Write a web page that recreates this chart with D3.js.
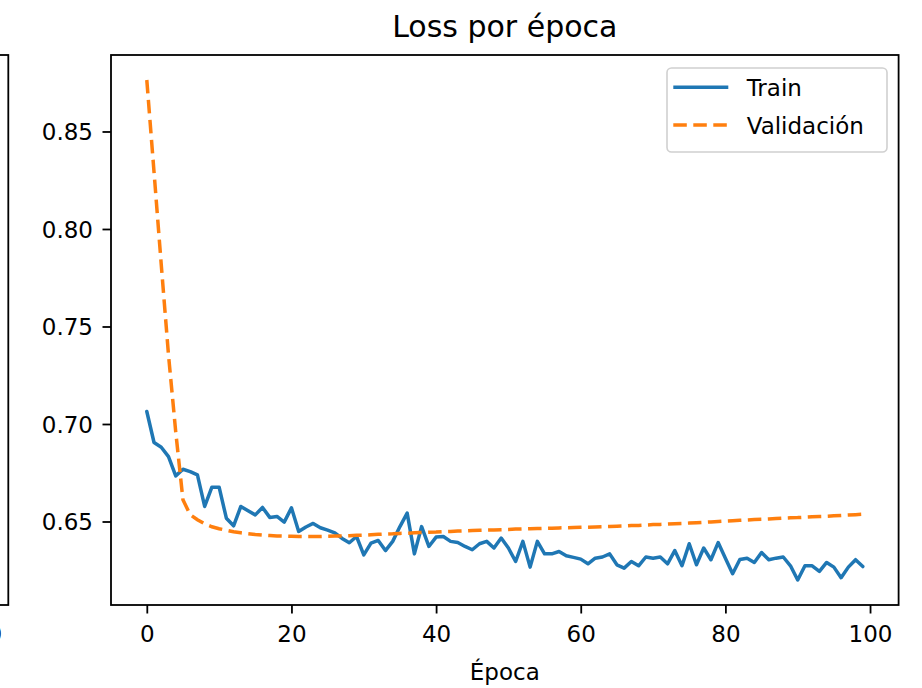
<!DOCTYPE html>
<html>
<head>
<meta charset="utf-8">
<script src="https://cdn.jsdelivr.net/npm/d3@7"></script>
<style>
  body { margin: 0; background: #fff; }
  svg { display: block; font-family: "DejaVu Sans", sans-serif; }
</style>
</head>
<body>
<div id="chart"></div>
<script>
// Loss per epoch
const trainLoss = [
    0.7064, 0.6905, 0.6881, 0.6833, 0.6734, 0.6768, 0.6756, 0.6739, 0.6577, 0.6676,
    0.6676, 0.6517, 0.6478, 0.6577, 0.6555, 0.6534, 0.6572, 0.6521, 0.6526, 0.6497,
    0.6570, 0.6449, 0.6472, 0.6490, 0.6468, 0.6456, 0.6442, 0.6413, 0.6391, 0.6423,
    0.6329, 0.6389, 0.6403, 0.6351, 0.6398, 0.6474, 0.6543, 0.6334, 0.6474, 0.6372,
    0.6420, 0.6423, 0.6398, 0.6392, 0.6372, 0.6355, 0.6386, 0.6398, 0.6364, 0.6415,
    0.6364, 0.6295, 0.6398, 0.6266, 0.6398, 0.6334, 0.6334, 0.6346, 0.6324, 0.6316,
    0.6307, 0.6283, 0.6312, 0.6318, 0.6334, 0.6278, 0.6261, 0.6295, 0.6273, 0.6318,
    0.6312, 0.6318, 0.6283, 0.6351, 0.6273, 0.6386, 0.6278, 0.6364, 0.6304, 0.6392,
    0.6312, 0.6232, 0.6305, 0.6312, 0.6290, 0.6341, 0.6304, 0.6312, 0.6318, 0.6273,
    0.6200, 0.6273, 0.6273, 0.6244, 0.6290, 0.6266, 0.6212, 0.6266, 0.6304, 0.6269
];
const valLoss = [
    0.8764, 0.8292, 0.7816, 0.7354, 0.6960, 0.6611, 0.6535, 0.6509, 0.6488, 0.6473,
    0.6463, 0.6455, 0.6447, 0.6442, 0.6437, 0.6433, 0.6430, 0.6428, 0.6426, 0.6425,
    0.6424, 0.6423, 0.6423, 0.6423, 0.6423, 0.6424, 0.6425, 0.6426, 0.6427, 0.6429,
    0.6430, 0.6432, 0.6434, 0.6436, 0.6437, 0.6439, 0.6440, 0.6442, 0.6443, 0.6445,
    0.6446, 0.6448, 0.6449, 0.6451, 0.6452, 0.6454, 0.6455, 0.6456, 0.6457, 0.6458,
    0.6459, 0.6461, 0.6462, 0.6463, 0.6464, 0.6465, 0.6466, 0.6467, 0.6468, 0.6469,
    0.6470, 0.6471, 0.6472, 0.6473, 0.6474, 0.6476, 0.6477, 0.6479, 0.6480, 0.6482,
    0.6484, 0.6485, 0.6487, 0.6489, 0.6490, 0.6492, 0.6494, 0.6496, 0.6498, 0.6500,
    0.6502, 0.6504, 0.6506, 0.6508, 0.6510, 0.6511, 0.6513, 0.6515, 0.6517, 0.6519,
    0.6520, 0.6522, 0.6524, 0.6526, 0.6527, 0.6529, 0.6531, 0.6533, 0.6535, 0.6537
];
const seriesNames = ['Train', 'Validación'];
const xTicks = [0, 20, 40, 60, 80, 100];
const yTicks = [0.65, 0.70, 0.75, 0.80, 0.85];
const leftPanelTicks = [100]; // only the last label of the neighbouring panel peeks in

const width = 922;
const height = 688;
const plot = { left: 111, right: 898.6, top: 55, bottom: 605 };
const blue = '#1f77b4';
const orange = '#ff7f0e';

const svg = d3.select('#chart')
    .append('svg')
    .attr('width', width)
    .attr('height', height);

// matplotlib style 5% margins around the data
const epochs = trainLoss.map((d, i) => i);
const xExt = d3.extent(epochs);
const xPad = (xExt[1] - xExt[0]) * 0.05;
const yExt = d3.extent(trainLoss.concat(valLoss));
const yPad = (yExt[1] - yExt[0]) * 0.05;

const xScale = d3.scaleLinear()
    .domain([xExt[0] - xPad, xExt[1] + xPad])
    .range([plot.left, plot.right]);

const yScale = d3.scaleLinear()
    .domain([yExt[0] - yPad, yExt[1] + yPad])
    .range([plot.bottom, plot.top]);

// Neighbouring subplot, only its right edge shows at the left border
const leftRight = 8.3;
const xLeft = d3.scaleLinear()
    .domain(xScale.domain())
    .range([leftRight - (plot.right - plot.left), leftRight]);

const leftAxis = svg.append('g')
    .attr('transform', `translate(0,${plot.bottom})`)
    .call(d3.axisBottom(xLeft).tickValues(leftPanelTicks).tickSize(8.5).tickPadding(12.5));

svg.append('rect')
    .attr('x', xLeft.range()[0])
    .attr('y', plot.top)
    .attr('width', xLeft.range()[1] - xLeft.range()[0])
    .attr('height', plot.bottom - plot.top)
    .attr('fill', 'none')
    .attr('stroke', '#000')
    .attr('stroke-width', 1.8);

// Axes
const xAxis = svg.append('g')
    .attr('transform', `translate(0,${plot.bottom})`)
    .call(d3.axisBottom(xScale).tickValues(xTicks).tickSize(8.5).tickPadding(12.5));

const yAxis = svg.append('g')
    .attr('transform', `translate(${plot.left},0)`)
    .call(d3.axisLeft(yScale).tickValues(yTicks).tickFormat(d3.format('.2f'))
        .tickSize(8.5).tickPadding(9.5));
yAxis.selectAll('text').attr('dy', '0.36em');

[leftAxis, xAxis, yAxis].forEach(ax => {
    ax.select('.domain').remove();
    ax.selectAll('line').attr('stroke', '#000').attr('stroke-width', 1.8);
    ax.selectAll('text')
        .attr('fill', '#000')
        .style('font-size', '23px')
        .style('font-family', '"DejaVu Sans", sans-serif');
});

// Lines
const line = d3.line()
    .x((d, i) => xScale(epochs[i]))
    .y(d => yScale(d));

svg.append('path')
    .datum(trainLoss)
    .attr('d', line)
    .attr('fill', 'none')
    .attr('stroke', blue)
    .attr('stroke-width', 3.5)
    .attr('stroke-linejoin', 'round')
    .attr('stroke-linecap', 'round');

svg.append('path')
    .datum(valLoss)
    .attr('d', line)
    .attr('fill', 'none')
    .attr('stroke', orange)
    .attr('stroke-width', 3.5)
    .attr('stroke-dasharray', '13.5,6.5');

// Frame
svg.append('rect')
    .attr('x', plot.left)
    .attr('y', plot.top)
    .attr('width', plot.right - plot.left)
    .attr('height', plot.bottom - plot.top)
    .attr('fill', 'none')
    .attr('stroke', '#000')
    .attr('stroke-width', 1.8);

// Title and axis label
svg.append('text')
    .attr('x', (plot.left + plot.right) / 2)
    .attr('y', 37)
    .attr('text-anchor', 'middle')
    .style('font-size', '30px')
    .text('Loss por época');

svg.append('text')
    .attr('x', (plot.left + plot.right) / 2)
    .attr('y', 680)
    .attr('text-anchor', 'middle')
    .style('font-size', '23px')
    .text('Época');

// Legend
const legend = svg.append('g')
    .attr('transform', 'translate(667,68)');

legend.append('rect')
    .attr('width', 220)
    .attr('height', 84)
    .attr('rx', 4.5)
    .attr('fill', '#fff')
    .attr('fill-opacity', 0.8)
    .attr('stroke', '#d0d0d0')
    .attr('stroke-width', 1.6);

const legendItems = [
    { name: seriesNames[0], color: blue, dash: null },
    { name: seriesNames[1], color: orange, dash: '13.5,6.5' }
];

legendItems.forEach((item, i) => {
    const y = 19.3 + i * 37.7;
    legend.append('line')
        .attr('x1', 6.3)
        .attr('x2', 61.3)
        .attr('y1', y)
        .attr('y2', y)
        .attr('stroke', item.color)
        .attr('stroke-width', 3.5)
        .attr('stroke-dasharray', item.dash);
    legend.append('text')
        .attr('x', 79.7)
        .attr('y', y + 9)
        .style('font-size', '23px')
        .text(item.name);
});
</script>
</body>
</html>
